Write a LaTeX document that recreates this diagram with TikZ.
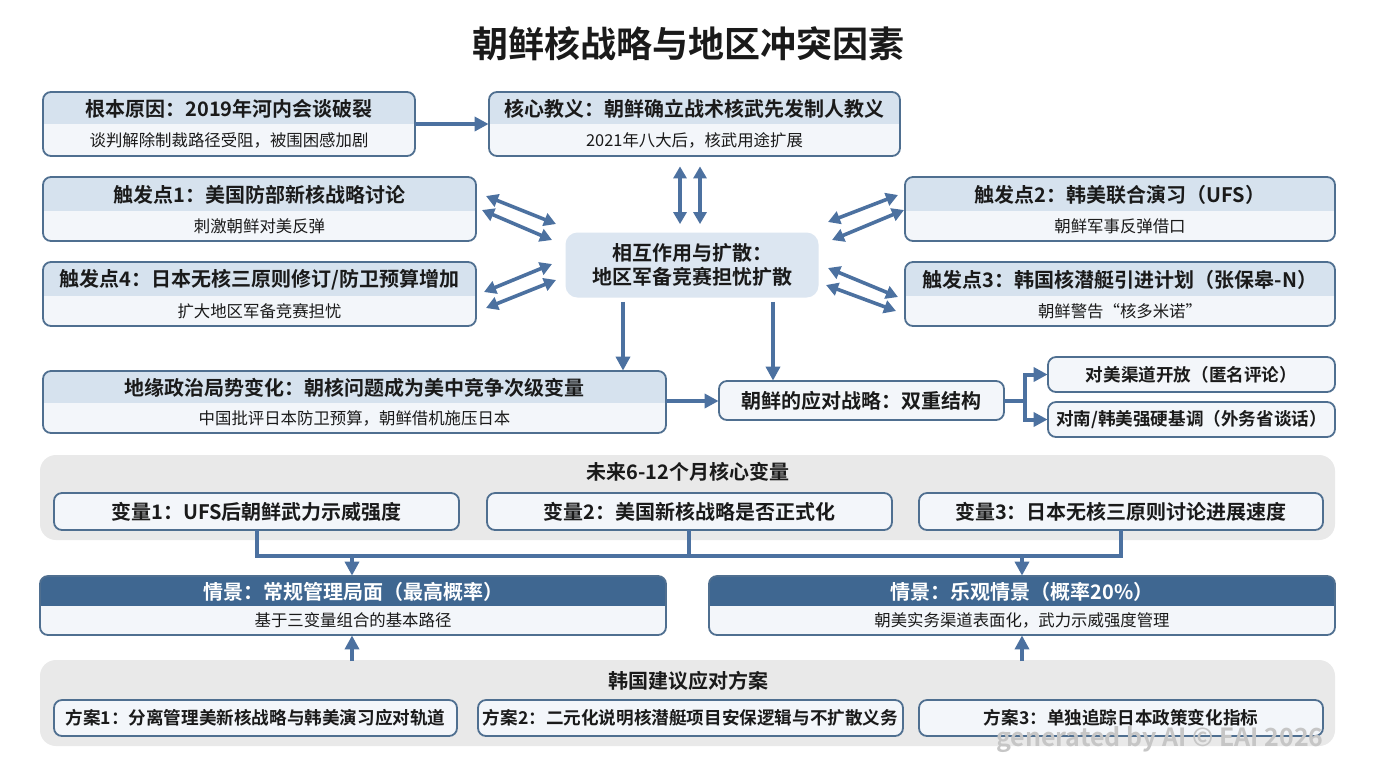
\documentclass[tikz,border=0pt]{standalone}
\usepackage{fontspec}
\setmainfont{Noto Sans CJK SC}[BoldFont={Noto Sans CJK SC Bold}]
\usetikzlibrary{arrows.meta}
\definecolor{dblue}{HTML}{3F6791}
\definecolor{bord}{HTML}{4F6F90}
\definecolor{head}{HTML}{D6E2EE}
\definecolor{body}{HTML}{F3F6FA}
\definecolor{panel}{HTML}{E9E9E9}
\definecolor{arr}{HTML}{4C71A0}
\definecolor{txt}{HTML}{1A1A1A}
\tikzset{
  ar/.style={draw=arr,line width=2pt,-{Triangle[length=7pt,width=7pt]}},
  dar/.style={draw=arr,line width=1.8pt,{Triangle[length=6pt,width=6.5pt]}-{Triangle[length=6pt,width=6.5pt]}},
  ln/.style={draw=arr,line width=2pt},
  ttl/.style={font=\bfseries\fontsize{10}{12}\selectfont,text=txt},
  sttl/.style={font=\bfseries\fontsize{8.8}{11}\selectfont,text=txt},
  sub/.style={font=\fontsize{8.2}{10}\selectfont,text=txt},
  box/.style={draw=bord,line width=0.9pt,rounded corners=4pt,fill=body},
}
% name x1 y1 x2 y2 headerbottom title sub headerfill
\newcommand\twobox[9]{%
  \node[inner sep=0,minimum width={(#4-#2)*0.5pt},minimum height={(#5-#3)*0.5pt}] (#1) at ({(#2+#4)/2},{(#3+#5)/2}) {};
  \begin{scope}
    \clip[rounded corners=4pt] (#2,#3) rectangle (#4,#5);
    \fill[body] (#2,#3) rectangle (#4,#5);
    \fill[#9] (#2,#3) rectangle (#4,#6);
  \end{scope}
  \draw[draw=bord,line width=0.9pt,rounded corners=4pt] (#2,#3) rectangle (#4,#5);
  \node[ttl] at ({(#2+#4)/2},{(#3+#6)/2+1}) {#7};
  \node[sub] at ({(#2+#4)/2},{(#6+#5)/2}) {#8};
}
% name x1 y1 x2 y2 style text
\newcommand\onebox[7]{%
  \draw[box] (#2,#3) rectangle (#4,#5);
  \node[inner sep=0,minimum width={(#4-#2)*0.5pt},minimum height={(#5-#3)*0.5pt}] (#1) at ({(#2+#4)/2},{(#3+#5)/2}) {};
  \node[#6] at (#1) {#7};
}
\begin{document}
\begin{tikzpicture}[x=0.5pt,y=-0.5pt]
\useasboundingbox[fill=white] (0,0) rectangle (1376,768);
\node[font=\bfseries\fontsize{18}{20}\selectfont,text=txt] (title) at (688,44) {朝鲜核战略与地区冲突因素};

\twobox{A}{43}{92}{415}{156}{124}{根本原因：2019年河内会谈破裂}{谈判解除制裁路径受阻，被围困感加剧}{head}
\twobox{B}{489}{92}{900}{156}{124}{核心教义：朝鲜确立战术核武先发制人教义}{2021年八大后，核武用途扩展}{head}
\twobox{C}{43}{177}{476}{241}{211}{触发点1：美国防部新核战略讨论}{刺激朝鲜对美反弹}{head}
\twobox{D}{43}{262}{476}{326}{296}{触发点4：日本无核三原则修订/防卫预算增加}{扩大地区军备竞赛担忧}{head}
\twobox{E}{905}{177}{1335}{241}{211}{触发点2：韩美联合演习（UFS）}{朝鲜军事反弹借口}{head}
\twobox{F}{905}{262}{1335}{326}{296}{触发点3：韩国核潜艇引进计划（张保皋-N）}{朝鲜警告“核多米诺”}{head}
\node[fill=head!85!white,rounded corners=6pt,inner sep=0,minimum width={253*0.5pt},minimum height={65*0.5pt},ttl,align=center] (M) at (692,265) {相互作用与扩散：\\地区军备竞赛担忧扩散};
\twobox{G}{43}{371}{666}{433}{403}{地缘政治局势变化：朝核问题成为美中竞争次级变量}{中国批评日本防卫预算，朝鲜借机施压日本}{head}
\onebox{H}{719}{381}{1004}{420}{ttl}{朝鲜的应对战略：双重结构}
\onebox{I}{1048}{357}{1335}{392}{sttl}{对美渠道开放（匿名评论）}
\onebox{J}{1048}{402}{1335}{437}{sttl}{对南/韩美强硬基调（外务省谈话）}

% variables panel
\fill[panel,rounded corners=8pt] (40,455) rectangle (1335,540);
\node[ttl] (P1) at (688,472) {未来6-12个月核心变量};
\onebox{V1}{54}{493}{459}{530}{ttl}{变量1：UFS后朝鲜武力示威强度}
\onebox{V2}{487}{493}{892}{530}{ttl}{变量2：美国新核战略是否正式化}
\onebox{V3}{919}{493}{1323}{530}{ttl}{变量3：日本无核三原则讨论进展速度}

\twobox{S1}{40}{576}{666}{635}{606}{\color{white}情景：常规管理局面（最高概率）}{基于三变量组合的基本路径}{dblue}
\twobox{S2}{709}{576}{1335}{635}{606}{\color{white}情景：乐观情景（概率20\%）}{朝美实务渠道表面化，武力示威强度管理}{dblue}

\fill[panel,rounded corners=8pt] (40,660) rectangle (1335,746);
\node[ttl] (P2) at (688,681) {韩国建议应对方案};
\onebox{K1}{54}{700}{457}{736}{sttl}{方案1：分离管理美新核战略与韩美演习应对轨道}
\onebox{K2}{478}{700}{903}{736}{sttl}{方案2：二元化说明核潜艇项目安保逻辑与不扩散义务}
\onebox{K3}{919}{700}{1323}{736}{sttl}{方案3：单独追踪日本政策变化指标}

% connectors
\draw[ar] (A.east) -- (B.west);
\draw[dar,shorten <=5pt,shorten >=4pt] (B.south -| 680,0) -- (M.north -| 680,0);
\draw[dar,shorten <=5pt,shorten >=4pt] (B.south -| 700,0) -- (M.north -| 700,0);
\coordinate (c1) at (486,196); \coordinate (m1) at (556,224);
\coordinate (c2) at (482,210); \coordinate (m2) at (552,240);
\draw[dar] (c1) -- (m1); \draw[dar] (c2) -- (m2);
\coordinate (d1) at (484,292); \coordinate (m3) at (552,264);
\coordinate (d2) at (486,308); \coordinate (m4) at (556,280);
\draw[dar] (d1) -- (m3); \draw[dar] (d2) -- (m4);
\coordinate (e1) at (898,195); \coordinate (m5) at (828,222);
\coordinate (e2) at (904,210); \coordinate (m6) at (832,240);
\draw[dar] (m5) -- (e1); \draw[dar] (m6) -- (e2);
\coordinate (f1) at (898,297); \coordinate (m7) at (828,268);
\coordinate (f2) at (896,311); \coordinate (m8) at (826,285);
\draw[dar] (m7) -- (f1); \draw[dar] (m8) -- (f2);
\draw[ar,shorten <=2pt] (M.south -| 623,0) -- (G.north -| 623,0);
\draw[ar,shorten <=2pt] (M.south -| 773,0) -- (H.north -| 773,0);
\draw[ar] (G.east |- 0,401) -- (H.west |- 0,401);
\coordinate (sp) at (1025,400.5);
\draw[ln] (H.east) -- (sp);
\draw[ar] (sp) |- (I.west);
\draw[ar] (sp) |- (J.west);
\coordinate (vj) at (1121,556);
\draw[ln] (V1.south -| 257,0) |- (vj) -- (V3.south -| 1121,0);
\draw[ln] (V2.south -| 689,0) -- (689,556);
\draw[ar] (352,556) -- (S1.north -| 352,0);
\draw[ar] (1022,556) -- (S2.north -| 1022,0);
\draw[ar] (352,661) -- (S1.south -| 352,0);
\draw[ar] (1022,661) -- (S2.south -| 1022,0);

\node[font=\bfseries\fontsize{12.5}{14}\selectfont,text=gray!45] (wm) at (1160,740) {generated by AI © EAI 2026};
\end{tikzpicture}
\end{document}
